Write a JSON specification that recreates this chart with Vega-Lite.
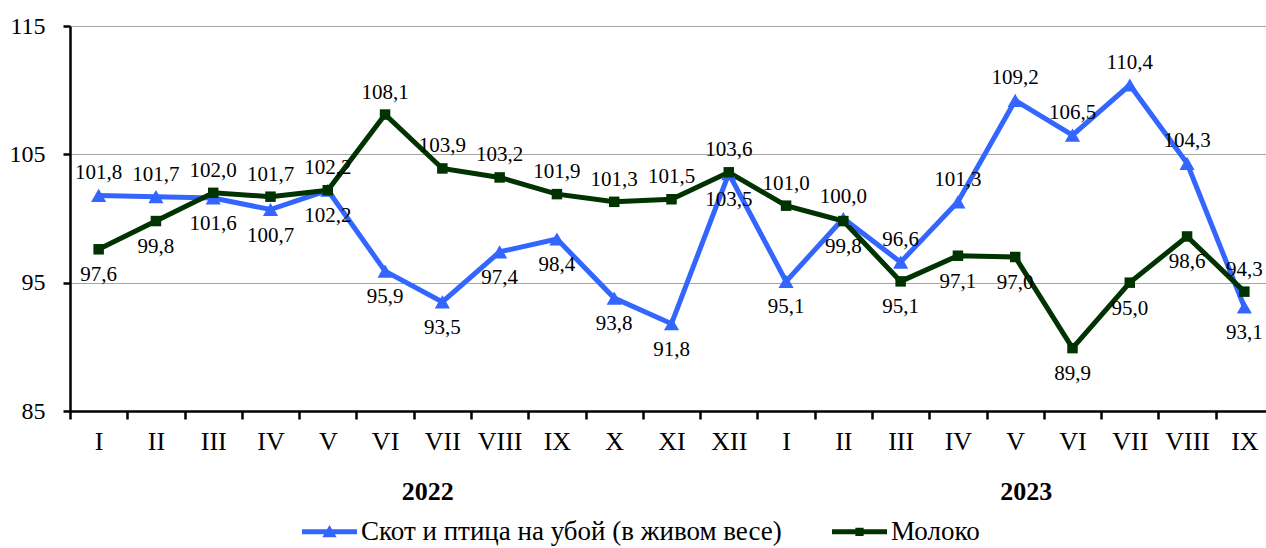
{
  "$schema": "https://vega.github.io/schema/vega-lite/v6.json",
  "width": 1196,
  "height": 385,
  "autosize": {"type": "none"},
  "padding": {"left": 70, "top": 26, "right": 0, "bottom": 137},
  "background": "white",
  "config": {
    "view": {"stroke": null},
    "font": "Liberation Serif",
    "axis": {"labelFont": "Liberation Serif", "labelColor": "black"}
  },
  "data": {
    "values": [
      {"p": "2022-I", "s": "Скот и птица на убой (в живом весе)", "v": 101.8},
      {"p": "2022-II", "s": "Скот и птица на убой (в живом весе)", "v": 101.7},
      {"p": "2022-III", "s": "Скот и птица на убой (в живом весе)", "v": 101.6},
      {"p": "2022-IV", "s": "Скот и птица на убой (в живом весе)", "v": 100.7},
      {"p": "2022-V", "s": "Скот и птица на убой (в живом весе)", "v": 102.2},
      {"p": "2022-VI", "s": "Скот и птица на убой (в живом весе)", "v": 95.9},
      {"p": "2022-VII", "s": "Скот и птица на убой (в живом весе)", "v": 93.5},
      {"p": "2022-VIII", "s": "Скот и птица на убой (в живом весе)", "v": 97.4},
      {"p": "2022-IX", "s": "Скот и птица на убой (в живом весе)", "v": 98.4},
      {"p": "2022-X", "s": "Скот и птица на убой (в живом весе)", "v": 93.8},
      {"p": "2022-XI", "s": "Скот и птица на убой (в живом весе)", "v": 91.8},
      {"p": "2022-XII", "s": "Скот и птица на убой (в живом весе)", "v": 103.5},
      {"p": "2023-I", "s": "Скот и птица на убой (в живом весе)", "v": 95.1},
      {"p": "2023-II", "s": "Скот и птица на убой (в живом весе)", "v": 100.0},
      {"p": "2023-III", "s": "Скот и птица на убой (в живом весе)", "v": 96.6},
      {"p": "2023-IV", "s": "Скот и птица на убой (в живом весе)", "v": 101.3},
      {"p": "2023-V", "s": "Скот и птица на убой (в живом весе)", "v": 109.2},
      {"p": "2023-VI", "s": "Скот и птица на убой (в живом весе)", "v": 106.5},
      {"p": "2023-VII", "s": "Скот и птица на убой (в живом весе)", "v": 110.4},
      {"p": "2023-VIII", "s": "Скот и птица на убой (в живом весе)", "v": 104.3},
      {"p": "2023-IX", "s": "Скот и птица на убой (в живом весе)", "v": 93.1},
      {"p": "2022-I", "s": "Молоко", "v": 97.6},
      {"p": "2022-II", "s": "Молоко", "v": 99.8},
      {"p": "2022-III", "s": "Молоко", "v": 102.0},
      {"p": "2022-IV", "s": "Молоко", "v": 101.7},
      {"p": "2022-V", "s": "Молоко", "v": 102.2},
      {"p": "2022-VI", "s": "Молоко", "v": 108.1},
      {"p": "2022-VII", "s": "Молоко", "v": 103.9},
      {"p": "2022-VIII", "s": "Молоко", "v": 103.2},
      {"p": "2022-IX", "s": "Молоко", "v": 101.9},
      {"p": "2022-X", "s": "Молоко", "v": 101.3},
      {"p": "2022-XI", "s": "Молоко", "v": 101.5},
      {"p": "2022-XII", "s": "Молоко", "v": 103.6},
      {"p": "2023-I", "s": "Молоко", "v": 101.0},
      {"p": "2023-II", "s": "Молоко", "v": 99.8},
      {"p": "2023-III", "s": "Молоко", "v": 95.1},
      {"p": "2023-IV", "s": "Молоко", "v": 97.1},
      {"p": "2023-V", "s": "Молоко", "v": 97.0},
      {"p": "2023-VI", "s": "Молоко", "v": 89.9},
      {"p": "2023-VII", "s": "Молоко", "v": 95.0},
      {"p": "2023-VIII", "s": "Молоко", "v": 98.6},
      {"p": "2023-IX", "s": "Молоко", "v": 94.3}
    ]
  },
  "transform": [
    {"joinaggregate": [{"op": "max", "field": "v", "as": "vmax"}, {"op": "min", "field": "v", "as": "vmin"}], "groupby": ["p"]},
    {"calculate": "datum.s === 'Молоко' ? datum.v >= datum.vmax : datum.v > datum.vmin", "as": "above"},
    {"calculate": "replace(format(datum.v, '.1f'), '.', ',')", "as": "lbl"},
    {"calculate": "split(datum.p, '-')[0]", "as": "year"}
  ],
  "encoding": {
    "x": {
      "field": "p",
      "type": "nominal",
      "sort": null,
      "scale": {"type": "band", "paddingInner": 0, "paddingOuter": 0, "range": [0, 1203]},
      "axis": {
        "title": null,
        "labelExpr": "split(datum.value, '-')[1]",
        "labelAngle": 0,
        "labelFontSize": 26,
        "labelPadding": 9,
        "tickBand": "extent",
        "tickSize": 8,
        "tickWidth": 2.5,
        "tickColor": "black",
        "domainColor": "black",
        "domainWidth": 2.5,
        "grid": false
      }
    },
    "y": {
      "field": "v",
      "type": "quantitative",
      "scale": {"domain": [85, 115], "nice": false, "zero": false},
      "axis": {
        "title": null,
        "values": [85, 95, 105, 115],
        "labelFontSize": 24,
        "labelPadding": 18,
        "tickSize": 7,
        "tickWidth": 2.5,
        "tickColor": "black",
        "domainColor": "black",
        "domainWidth": 2.5,
        "grid": true,
        "gridColor": "#a6a6a6",
        "gridWidth": 1
      }
    }
  },
  "layer": [
    {
      "mark": {"type": "line", "strokeWidth": 5},
      "encoding": {
        "color": {
          "field": "s",
          "type": "nominal",
          "sort": ["Скот и птица на убой (в живом весе)", "Молоко"],
          "scale": {"domain": ["Скот и птица на убой (в живом весе)", "Молоко"], "range": ["#3366ff", "#003300"]},
          "legend": {
            "orient": "none",
            "legendX": 232,
            "legendY": 478,
            "direction": "horizontal",
            "title": null,
            "labelFont": "Liberation Serif",
            "labelFontSize": 27,
            "labelColor": "black",
            "labelLimit": 0,
            "symbolSize": 3025,
            "labelOffset": 4,
            "columnPadding": 50,
            "padding": 0,
            "symbolStrokeWidth": 0,
            "encode": {
              "symbols": {
                "update": {
                  "shape": {"signal": "datum.value === 'Молоко' ? 'M-1,-0.09H1V0.09H-1Z M-0.15,-0.15H0.15V0.15H-0.15Z' : 'M-1,-0.09H1V0.09H-1Z M0,-0.25L0.26,0.2L-0.26,0.2Z'"},
                  "fill": {"signal": "datum.value === 'Молоко' ? '#003300' : '#3366ff'"},
                  "strokeWidth": {"value": 0},
                  "opacity": {"value": 1},
                  "fillOpacity": {"value": 1}
                }
              }
            }
          }
        }
      }
    },
    {
      "transform": [{"filter": "datum.s !== 'Молоко'"}],
      "mark": {"type": "point", "shape": "triangle-up", "filled": true, "size": 230, "opacity": 1, "color": "#3366ff"}
    },
    {
      "transform": [{"filter": "datum.s === 'Молоко'"}],
      "mark": {"type": "point", "shape": "square", "filled": true, "size": 110, "opacity": 1, "color": "#003300"}
    },
    {
      "transform": [{"filter": "datum.above"}],
      "mark": {"type": "text", "dy": -22, "fontSize": 21, "font": "Liberation Serif", "color": "black", "baseline": "middle"},
      "encoding": {"text": {"field": "lbl"}}
    },
    {
      "transform": [{"filter": "!datum.above"}],
      "mark": {"type": "text", "dy": 26, "fontSize": 21, "font": "Liberation Serif", "color": "black", "baseline": "middle"},
      "encoding": {"text": {"field": "lbl"}}
    },
    {
      "transform": [{"filter": "datum.p === '2022-VII' && datum.s === 'Молоко'"}],
      "mark": {"type": "text", "dx": 14, "dy": 81, "fontSize": 26, "fontWeight": "bold", "font": "Liberation Serif", "color": "black", "baseline": "middle"},
      "encoding": {
        "x": {"field": "p", "type": "nominal", "bandPosition": 0},
        "y": {"datum": 85, "type": "quantitative"},
        "text": {"field": "year"}
      }
    },
    {
      "transform": [{"filter": "datum.p === '2023-V' && datum.s === 'Молоко'"}],
      "mark": {"type": "text", "dx": 11, "dy": 81, "fontSize": 26, "fontWeight": "bold", "font": "Liberation Serif", "color": "black", "baseline": "middle"},
      "encoding": {
        "x": {"field": "p", "type": "nominal", "bandPosition": 0.5},
        "y": {"datum": 85, "type": "quantitative"},
        "text": {"field": "year"}
      }
    }
  ]
}
